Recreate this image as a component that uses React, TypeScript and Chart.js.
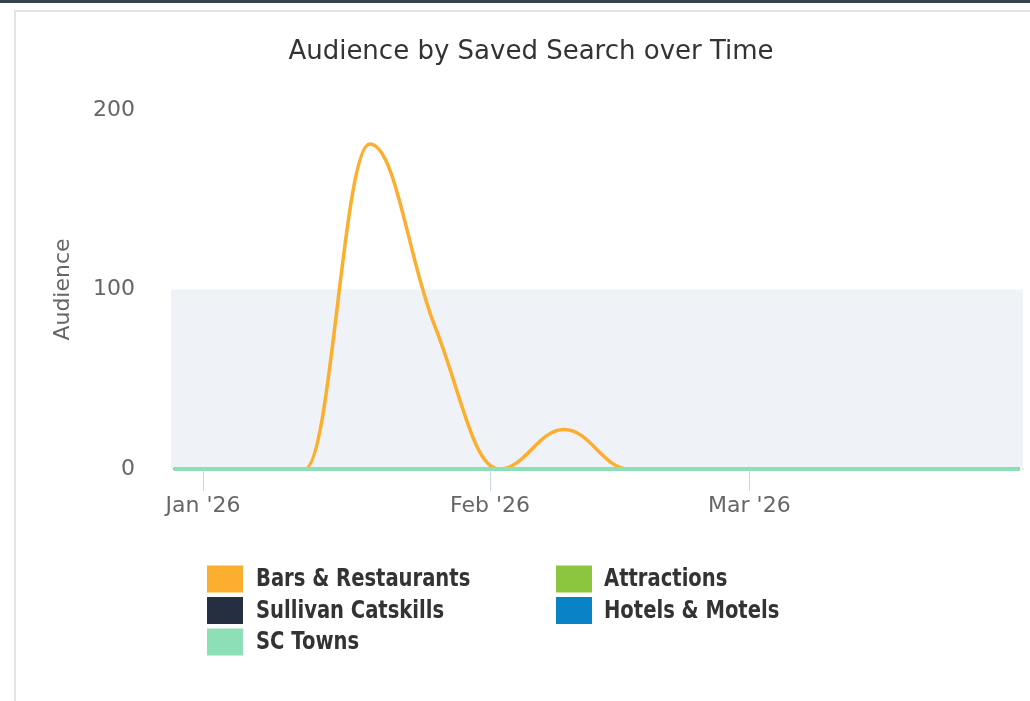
import React, { useEffect, useRef } from "react";
import { Chart, registerables } from "chart.js";

Chart.register(...registerables);

// ---- data ----
const weekStarts = [
  "2025-12-29", "2026-01-05", "2026-01-12", "2026-01-19", "2026-01-26",
  "2026-02-02", "2026-02-09", "2026-02-16", "2026-02-23", "2026-03-02",
  "2026-03-09", "2026-03-16", "2026-03-23", "2026-03-30",
];
const barsRestaurants = [0, 0, 0, 181, 80, 0, 22, 0, 0, 0, 0, 0, 0, 0];
const attractions = [0, 0, 0, 0, 0, 0, 0, 0, 0, 0, 0, 0, 0, 0];
const sullivanCatskills = [0, 0, 0, 0, 0, 0, 0, 0, 0, 0, 0, 0, 0, 0];
const hotelsMotels = [0, 0, 0, 0, 0, 0, 0, 0, 0, 0, 0, 0, 0, 0];
const scTowns = [0, 0, 0, 0, 0, 0, 0, 0, 0, 0, 0, 0, 0, 0];

const seriesNames = ["Bars & Restaurants", "Attractions", "Sullivan Catskills", "Hotels & Motels", "SC Towns"];
const seriesColors = ["#fcae2e", "#8cc63f", "#262f42", "#0a82c8", "#8ddfb8"];

const tickDates = ["2026-01-01", "2026-02-01", "2026-03-01"];
const tickLabels = ["Jan '26", "Feb '26", "Mar '26"];
const yTicks = [0, 100, 200];
const bandRange = [0, 100];

const ORIGIN = Date.parse("2026-01-01T00:00:00Z");
const toDay = (s: string) => (Date.parse(s + "T00:00:00Z") - ORIGIN) / 86400000;

const FONT = "'DejaVu Sans', sans-serif";

const bandPlugin = {
  id: "plotBand",
  beforeDatasetsDraw(chart: any) {
    const { ctx, chartArea, scales } = chart;
    const y0 = scales.y.getPixelForValue(bandRange[0]);
    const y1 = scales.y.getPixelForValue(bandRange[1]);
    ctx.save();
    ctx.fillStyle = "#eff2f6";
    ctx.fillRect(chartArea.left, y1, chartArea.right - chartArea.left, y0 - y1 + 1);
    ctx.restore();
  },
};

// spline smoothing with control points kept between neighbouring values
const splinePlugin = {
  id: "smoothSpline",
  beforeDatasetsDraw(chart: any) {
    const sm = 1.5;
    const den = sm + 1;
    chart.getSortedVisibleDatasetMetas().forEach((meta: any) => {
      const pts = meta.data;
      for (let i = 0; i < pts.length; i++) {
        const p = pts[i];
        const x = p.x;
        const y = p.y;
        let lcx = x, lcy = y, rcx = x, rcy = y;
        const a = pts[i - 1];
        const b = pts[i + 1];
        if (a && b) {
          lcx = (sm * x + a.x) / den;
          lcy = (sm * y + a.y) / den;
          rcx = (sm * x + b.x) / den;
          rcy = (sm * y + b.y) / den;
          let corr = 0;
          if (rcx !== lcx) corr = ((rcy - lcy) * (rcx - x)) / (rcx - lcx) + y - rcy;
          lcy += corr;
          rcy += corr;
          if (lcy > a.y && lcy > y) { lcy = Math.max(a.y, y); rcy = 2 * y - lcy; }
          else if (lcy < a.y && lcy < y) { lcy = Math.min(a.y, y); rcy = 2 * y - lcy; }
          if (rcy > b.y && rcy > y) { rcy = Math.max(b.y, y); lcy = 2 * y - rcy; }
          else if (rcy < b.y && rcy < y) { rcy = Math.min(b.y, y); lcy = 2 * y - rcy; }
        }
        p.cp1x = lcx; p.cp1y = lcy; p.cp2x = rcx; p.cp2y = rcy;
      }
      if (meta.dataset) {
        meta.dataset._pointsUpdated = true;
        meta.dataset._path = undefined;
      }
    });
  },
};

const legendPlugin = {
  id: "colLegend",
  afterDraw(chart: any) {
    const { ctx } = chart;
    const colBox = [207, 556];
    const colText = [256, 604];
    const row0 = 579;
    const rowH = 31.5;
    ctx.save();
    chart.data.datasets.forEach((ds: any, i: number) => {
      const col = i % 2;
      const row = Math.floor(i / 2);
      const cy = row0 + row * rowH;
      ctx.fillStyle = ds.borderColor;
      ctx.fillRect(colBox[col], cy - 13.5, 36, 27);
      ctx.save();
      ctx.translate(colText[col], cy + 1);
      ctx.scale(0.815, 1);
      ctx.fillStyle = "#333333";
      ctx.font = `bold 24px ${FONT}`;
      ctx.textBaseline = "middle";
      ctx.textAlign = "left";
      ctx.fillText(ds.label, 0, 0);
      ctx.restore();
    });
    ctx.restore();
  },
};

export default function App() {
  const ref = useRef<HTMLCanvasElement>(null);

  useEffect(() => {
    const canvas = ref.current;
    if (!canvas) return;
    const xs = weekStarts.map(toDay);
    const seriesValues = [barsRestaurants, attractions, sullivanCatskills, hotelsMotels, scTowns];
    const tickDays = tickDates.map(toDay);

    const datasets = seriesNames.map((name, i) => ({
      label: name,
      data: seriesValues[i].map((v, k) => ({ x: xs[k], y: v })),
      borderColor: seriesColors[i],
      backgroundColor: seriesColors[i],
      borderWidth: i === 4 ? 4 : 3.5,
      pointRadius: 0,
      pointHoverRadius: 0,
      tension: 0.4,
      fill: false,
      clip: 6,
      borderCapStyle: "round",
      borderJoinStyle: "round",
      order: i === 4 ? 0 : i + 1,
    }));

    const chart = new Chart(canvas, {
      type: "line",
      data: { datasets },
      options: {
        animation: false,
        responsive: false,
        events: [],
        layout: { padding: { left: 39, right: 7, top: 20, bottom: 0 } },
        plugins: {
          legend: { display: false },
          tooltip: { enabled: false },
          title: {
            display: true,
            text: "Audience by Saved Search over Time",
            color: "#333333",
            font: { family: FONT, size: 26, weight: "normal" },
            padding: { top: 17, bottom: 41.8 },
          },
        },
        scales: {
          x: {
            type: "linear",
            min: -3.46,
            max: 88.55,
            afterBuildTicks: (scale: any) => {
              scale.ticks = tickDays.map((v) => ({ value: v }));
            },
            afterFit: (scale: any) => {
              scale.height = 232;
            },
            ticks: {
              color: "#666666",
              font: { family: FONT, size: 22 },
              padding: 2,
              maxRotation: 0,
              autoSkip: false,
              callback: (v: any) => {
                const idx = tickDays.indexOf(Number(v));
                return idx >= 0 ? tickLabels[idx] : "";
              },
            },
            grid: {
              display: true,
              drawOnChartArea: false,
              drawTicks: true,
              tickLength: 22,
              color: "#ccd6eb",
              lineWidth: 1,
            },
            border: { display: true, color: "#ccd6eb", width: 1 },
          },
          y: {
            type: "linear",
            min: 0,
            max: 200,
            afterBuildTicks: (scale: any) => {
              scale.ticks = yTicks.map((v) => ({ value: v }));
            },
            afterFit: (scale: any) => {
              scale.width = 132;
            },
            ticks: {
              color: "#666666",
              font: { family: FONT, size: 22 },
              padding: 36,
            },
            grid: { display: false, drawTicks: false },
            border: { display: false },
            title: {
              display: true,
              text: "Audience",
              color: "#666666",
              font: { family: FONT, size: 22 },
              padding: { top: 11, bottom: 0 },
            },
          },
        },
      },
      plugins: [bandPlugin, splinePlugin, legendPlugin],
    } as any);

    return () => chart.destroy();
  }, []);

  return (
    <div style={{ position: "absolute", left: 0, top: 0, width: 1030, height: 701, overflow: "hidden", background: "#ffffff" }}>
      <div style={{ position: "absolute", left: 0, top: 0, width: 1030, height: 3, background: "#33434b" }} />
      <div
        style={{
          position: "absolute",
          left: 14,
          top: 10,
          width: 1100,
          height: 800,
          borderLeft: "2px solid #e3e3e3",
          borderTop: "2px solid #e3e3e3",
        }}
      />
      <canvas ref={ref} width={1030} height={701} style={{ position: "absolute", left: 0, top: 0, width: 1030, height: 701 }} />
    </div>
  );
}
